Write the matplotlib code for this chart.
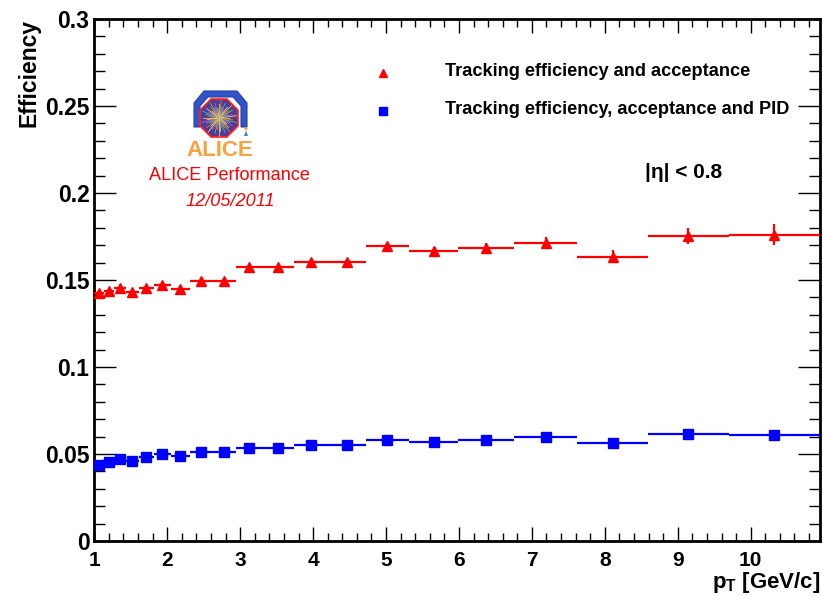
import numpy as np
import matplotlib
matplotlib.use('Agg')
import matplotlib.pyplot as plt
from matplotlib.patches import Polygon, Circle
from matplotlib.ticker import MultipleLocator, FuncFormatter

plt.rcParams['font.family'] = ['Liberation Sans', 'DejaVu Sans']
plt.rcParams['mathtext.fontset'] = 'custom'
plt.rcParams['mathtext.rm'] = 'Liberation Sans:bold'
plt.rcParams['mathtext.it'] = 'Liberation Sans:bold'
plt.rcParams['mathtext.bf'] = 'Liberation Sans:bold'

# pT bin edges (GeV/c)
pt_edges = [1.0, 1.13, 1.27, 1.43, 1.61, 1.82, 2.05, 2.31, 2.61, 2.94, 3.31,
            3.74, 4.21, 4.72, 5.32, 5.99, 6.76, 7.62, 8.59, 9.70, 10.95]

# tracking efficiency x acceptance
eff_trk = [0.1424, 0.1438, 0.1452, 0.1431, 0.1454, 0.1470, 0.1448, 0.1496,
           0.1496, 0.1573, 0.1573, 0.1605, 0.1605, 0.1695, 0.1665, 0.1686,
           0.1713, 0.1634, 0.1753, 0.1759]
err_trk = [0.0008, 0.0008, 0.0008, 0.0008, 0.0009, 0.0009, 0.0010, 0.0010,
           0.0011, 0.0012, 0.0013, 0.0014, 0.0015, 0.0017, 0.0024, 0.0029,
           0.0034, 0.0038, 0.0046, 0.0060]

# tracking efficiency x acceptance x PID
eff_pid = [0.0437, 0.0456, 0.0470, 0.0461, 0.0484, 0.0500, 0.0490, 0.0510,
           0.0510, 0.0536, 0.0536, 0.0552, 0.0552, 0.0582, 0.0569, 0.0582,
           0.0596, 0.0561, 0.0615, 0.0609]
err_pid = [0.0004, 0.0004, 0.0004, 0.0004, 0.0004, 0.0005, 0.0005, 0.0005,
           0.0005, 0.0006, 0.0006, 0.0007, 0.0007, 0.0008, 0.0010, 0.0012,
           0.0014, 0.0016, 0.0019, 0.0024]

W, H = 823, 597
fig = plt.figure(figsize=(W / 100.0, H / 100.0), dpi=100)
ax = fig.add_axes([94.3 / W, 56.0 / H, (820 - 94.3) / W, (541 - 19) / H])

edges = np.array(pt_edges)
xc = 0.5 * (edges[:-1] + edges[1:])
xerr = [xc - edges[:-1], edges[1:] - xc]

ax.errorbar(xc, eff_trk, xerr=xerr, yerr=err_trk, fmt='^', color='#ff0000',
            ms=6.5, elinewidth=1.6, capsize=0, zorder=3)
ax.errorbar(xc, eff_pid, xerr=xerr, yerr=err_pid, fmt='s', color='#0000ff',
            ms=6.5, elinewidth=1.6, capsize=0, zorder=3)

ax.set_xlim(edges[0], edges[-1])
ax.set_ylim(0, 0.3)

ax.xaxis.set_major_locator(MultipleLocator(1))
ax.xaxis.set_minor_locator(MultipleLocator(0.2))
ax.yaxis.set_major_locator(MultipleLocator(0.05))
ax.yaxis.set_minor_locator(MultipleLocator(0.01))
ax.yaxis.set_major_formatter(FuncFormatter(lambda v, p: '%g' % round(v, 3)))
ax.xaxis.set_major_formatter(FuncFormatter(lambda v, p: '%d' % round(v)))

ax.tick_params(which='both', direction='in', top=True, right=True, width=1.0, color='black')
ax.tick_params(axis='y', which='major', length=15.5, pad=3.5, labelsize=16.5)
ax.tick_params(axis='y', which='minor', length=8)
ax.tick_params(axis='x', which='major', length=10, pad=7, labelsize=15)
ax.tick_params(axis='x', which='minor', length=5.5)
for lab in ax.get_xticklabels() + ax.get_yticklabels():
    lab.set_fontweight('bold')
for sp in ax.spines.values():
    sp.set_linewidth(2)

# axis titles
fig.text(29 / W, 1 - 19 / H, 'Efficiency', rotation=90, ha='center', va='top',
         fontsize=16.5, fontweight='bold')
fig.text(820 / W, 1 - 588 / H, r'$p_{T}$ [GeV/c]', ha='right', va='baseline',
         fontsize=16, fontweight='bold')

# legend
ax.plot([382.7 / W], [1 - 72.7 / H], '^', color='#ff0000', ms=5.5,
        transform=fig.transFigure, clip_on=False)
ax.plot([382.7 / W], [1 - 111 / H], 's', color='#0000ff', ms=6,
        transform=fig.transFigure, clip_on=False)
fig.text(445 / W, 1 - 71 / H, 'Tracking efficiency and acceptance',
         ha='left', va='center', fontsize=13.1, fontweight='bold')
fig.text(445 / W, 1 - 110 / H, 'Tracking efficiency, acceptance and PID',
         ha='left', va='center', fontsize=13.1, fontweight='bold')
fig.text(645 / W, 1 - 173 / H, '|\u03b7| < 0.8', ha='left', va='center',
         fontsize=15, fontweight='bold')

# ALICE logo
lax = fig.add_axes([186 / W, 1 - 160 / H, 70 / W, 72 / H])
lax.set_xlim(186, 256)
lax.set_ylim(160, 88)
lax.axis('off')
arch = [(194, 127), (194, 103), (204, 91), (237, 91), (247, 103), (247, 127),
        (241, 127), (241, 106), (233, 97), (208, 97), (200, 106), (200, 127)]
lax.add_patch(Polygon(arch, closed=True, fc='#2f55c9', ec='#2a3fa8', lw=0.8))
cx, cy, R = 219.0, 118.0, 20.5
ang = np.deg2rad(22.5 + 45 * np.arange(8))
octo = np.column_stack([cx + R * np.cos(ang), cy + R * np.sin(ang)])
lax.add_patch(Polygon(octo, closed=True, fc='#4a3c98', ec='#ff2020', lw=1.3))
ray_cols = ['#ffd23f', '#ff7f2a', '#7fd34e', '#33c7e6', '#e84fd2', '#ffe97a']
for k, a in enumerate(np.linspace(0, 2 * np.pi, 48, endpoint=False)):
    r = 17.5 * (0.55 + 0.45 * ((k * 7) % 5) / 4.0)
    lax.plot([cx, cx + r * np.cos(a)], [cy, cy + r * np.sin(a)],
             color=ray_cols[k % len(ray_cols)], lw=0.6, alpha=0.9)
lax.add_patch(Circle((cx, cy), 3.0, fc='#ff8c1a', ec='none'))
lax.add_patch(Circle((246, 128.5), 1.6, fc='#f7a23c', ec='none'))
lax.add_patch(Polygon([(244, 136), (248, 136), (246, 130.5)], closed=True,
                      fc='#3a7fd8', ec='none'))
lax.text(220, 150, 'ALICE', color='#f7a23c', fontsize=16, fontweight='bold',
         ha='center', va='center')

fig.text(229 / W, 1 - 175 / H, 'ALICE Performance', color='#ff0000',
         fontsize=13.1, ha='center', va='center')
fig.text(230 / W, 1 - 201 / H, '12/05/2011', color='#ff0000', style='italic',
         fontsize=13.1, ha='center', va='center')

fig.savefig('out.png', dpi=100)
